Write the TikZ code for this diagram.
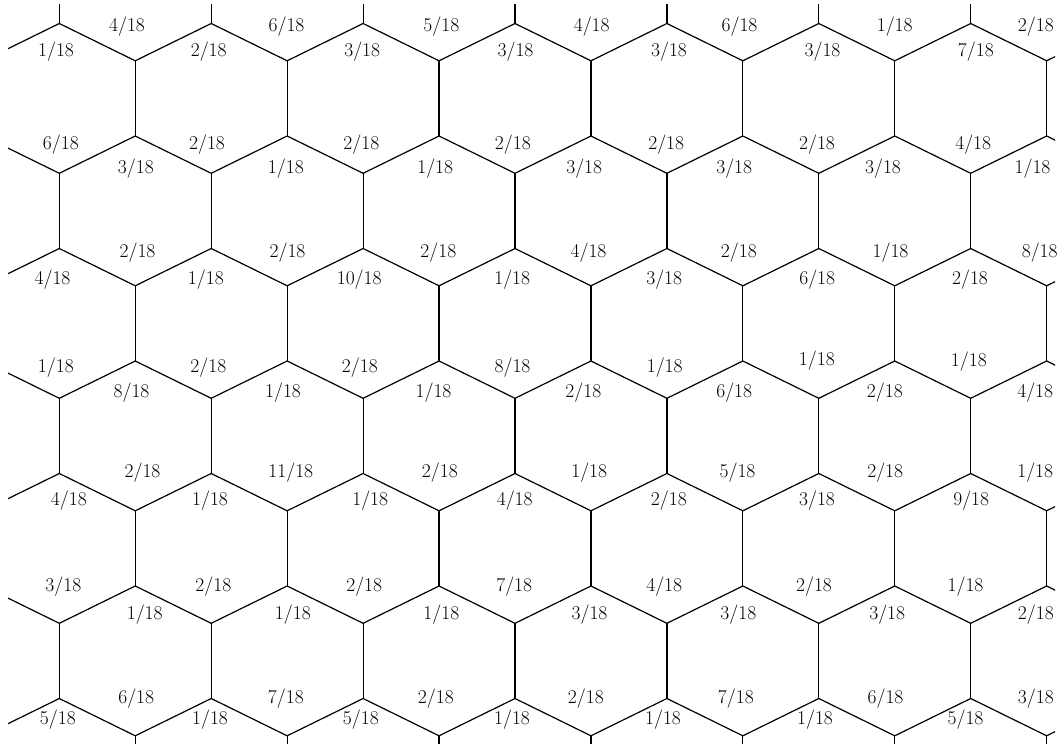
\documentclass[tikz,border=0pt]{standalone}
\begin{document}
\begin{tikzpicture}[x=1pt,y=-1pt,
  hexline/.style={line width=1.2pt, black, line join=miter},
  lab/.style={inner sep=0pt, anchor=center, font=\fontsize{19.5}{21}\selectfont}]
\useasboundingbox (0,0) rectangle (1063,746);
% honeycomb lattice, clipped
\begin{scope}
\clip (8,5) rectangle (1055,743.5);
\foreach \r in {-1,...,7}{
  \foreach \k in {-1,...,14}{
    \pgfmathsetmacro\xa{59.3+75.95*\k}
    \pgfmathsetmacro\xl{59.3+75.95*(\k-1)}
    \pgfmathsetmacro\xr{59.3+75.95*(\k+1)}
    \pgfmathsetmacro\ya{23.5+112.5*\r}
    \pgfmathsetmacro\yb{60.8+112.5*\r}
    \pgfmathsetmacro\yn{23.5+112.5*(\r+1)}
    \pgfmathtruncatemacro\pp{mod(\k+\r+10,2)}
    \ifnum\pp=0
      \draw[hexline] (\xl,\yb) -- (\xa,\ya) -- (\xr,\yb);
    \else
      \draw[hexline] (\xa,\yb) -- (\xa,\yn);
    \fi
  }
}
\end{scope}
% labels
\foreach \x/\y/\t [count=\i] in {
  127/26.5/4, 286.5/26.5/6, 441.3/26.5/5, 591.7/26.5/4, 739.5/26.5/6, 894.7/26.5/1, 1035.8/26.5/2,
  56/52/1, 208.7/52/2, 362.2/52/3, 515.5/52/3, 669/52/3, 822.5/52/3, 975.8/52/7,
  60.8/144.5/6, 207/144.5/2, 361.3/144.5/2, 512.8/144.5/2, 666.2/144.5/2, 817/144.5/2, 973.2/144.5/4,
  135.8/169/3, 285.8/169/1, 435.2/169/1, 584.2/169/3, 734.2/169/3, 883/169/3, 1032.5/169/1,
  137.5/252.5/2, 287.5/252.5/2, 438.3/252.5/2, 588.5/252.5/4, 738.8/252.5/2, 890.5/252.5/1, 1039.7/252.5/8,
  52.5/279.5/4, 205.8/279.5/1, 359.2/279.5/10, 512.2/279.5/1, 664.2/279.5/3, 817.2/279.5/6, 970/279.5/2,
  55.8/367.5/1, 208.3/367.5/2, 359.8/367.5/2, 512.5/367.5/8, 664.7/367.5/1, 816.8/361/1, 968.8/362/1,
  131.5/392.5/8, 283/392.5/1, 433.5/392.5/1, 583.3/392.5/2, 734.2/392.5/6, 884.8/392.5/2, 1035.2/392.5/4,
  142.5/472.5/2, 290.8/472.5/11, 439.8/472.5/2, 589.2/472.5/1, 737.5/472.5/5, 885.2/472.5/2, 1035.2/472.5/1,
  68.8/501/4, 210/501/1, 370.2/501/1, 514.7/501/4, 668.8/501/2, 817/501/3, 971.2/501/9,
  63.3/586.7/3, 213.3/586.7/2, 364.2/586.7/2, 514.2/586.7/7, 664.2/586.7/4, 814/586.7/2, 965.5/586.7/1,
  144.7/614.7/1, 292.8/614.7/1, 441.3/614.7/1, 589.5/614.7/3, 738.3/614.7/3, 887.2/614.7/3, 1035.8/614.7/2,
  136.2/699/6, 285.8/699/7, 435.8/699/2, 585.8/699/2, 735.8/699/7, 885.5/699/6, 1035.8/699/3,
  57.8/719.3/5, 210/719.3/1, 360.8/719.3/5, 512/719.3/1, 663/719.3/1, 815/719.3/1, 965.5/719.3/5}
  {\node[lab] (L\i) at (\x,\y) {\t/18};}
\end{tikzpicture}
\end{document}
